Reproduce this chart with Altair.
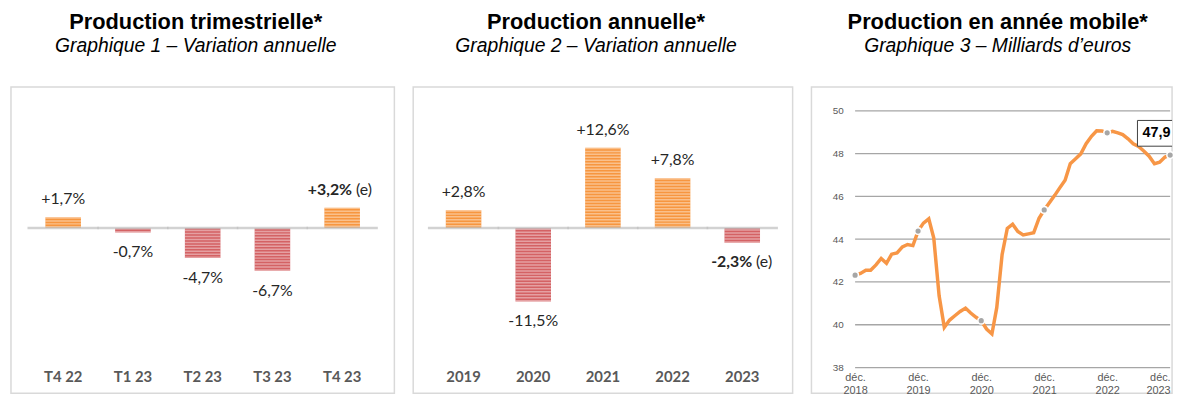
import altair as alt
import pandas as pd

# ---------------- data ----------------
cats1 = ["T4 22", "T1 23", "T2 23", "T3 23", "T4 23"]
vals1 = [1.7, -0.7, -4.7, -6.7, 3.2]
labs1 = ["+1,7%", "-0,7%", "-4,7%", "-6,7%", "+3,2%"]
est1 = [False, False, False, False, True]

cats2 = ["2019", "2020", "2021", "2022", "2023"]
vals2 = [2.8, -11.5, 12.6, 7.8, -2.3]
labs2 = ["+2,8%", "-11,5%", "+12,6%", "+7,8%", "-2,3%"]
est2 = [False, False, False, False, True]

months = pd.date_range("2018-12-01", "2023-12-01", freq="MS").strftime("%Y-%m-%d").tolist()
prod = [42.32,
        42.40, 42.55, 42.55, 42.80, 43.10, 42.87, 43.30, 43.36, 43.64, 43.75, 43.70, 44.38,
        44.75, 44.95, 44.05, 41.35, 39.88, 40.22, 40.42, 40.62, 40.78, 40.55, 40.35, 40.19,
        39.80, 39.57, 40.80, 43.28, 44.50, 44.70, 44.36, 44.20, 44.25, 44.30, 44.98, 45.37,
        45.72, 46.06, 46.40, 46.76, 47.53, 47.76, 47.99, 48.46, 48.81, 49.07, 49.06, 48.97,
        49.04, 48.97, 48.89, 48.69, 48.46, 48.33, 48.12, 47.88, 47.53, 47.60, 47.84, 47.93]
yticks3 = [38, 40, 42, 44, 46, 48, 50]
last_label = "47,9"

ORANGE = "#F7963F"
RED = "#D46264"
TXT = "#262626"
GREY_LBL = "#595959"
H = 309
FONT_T = "Liberation Sans"
FONT_V = "Lato"


def title(main, sub, dx):
    return alt.TitleParams(
        text=main, subtitle=sub, anchor="middle", dx=dx,
        font=FONT_T, fontSize=22, fontWeight="bold", color="#000000",
        subtitleFont=FONT_T, subtitleFontSize=19.5, subtitleFontStyle="italic",
        subtitleColor="#000000", subtitlePadding=3, offset=31,
    )


def bar_panel(cats, vals, labs, est, width, pi, po, main, sub, dx):
    df = pd.DataFrame({"cat": cats, "v": vals, "lab": labs, "est": est})
    df["pos"] = df["v"] >= 0
    x = alt.X("cat:N", sort=cats,
              scale=alt.Scale(paddingInner=pi, paddingOuter=po),
              axis=alt.Axis(title=None, domain=False, ticks=False, tickSize=0,
                            labelAngle=0, labelFont=FONT_V, labelFontSize=15,
                            labelFontWeight="bold", labelColor=GREY_LBL,
                            labelPadding=0, offset=-24))
    xs = alt.X("cat:N", sort=cats)
    y = alt.Y("v:Q", scale=alt.Scale(domain=[-25.9, 22.1], nice=False), axis=None)
    base = alt.Chart(df)
    bars = base.mark_bar().encode(
        x=x, y=y,
        color=alt.condition("datum.v >= 0", alt.value(ORANGE), alt.value(RED)),
    )
    stripes = base.mark_rule(strokeWidth=36, strokeDash=[1.5, 1.5], strokeCap="butt",
                             color="white", opacity=0.4).encode(
        x=xs, y="v:Q", y2=alt.datum(0))
    zero = base.mark_tick(size=72, thickness=2.5, color="#BFBFBF").encode(
        x=xs, y=alt.datum(0))
    layers = [bars, stripes, zero]
    for positive, dy in [(True, -18), (False, 20)]:
        sel = f"datum.pos == {str(positive).lower()}"
        layers.append(base.transform_filter(sel + " && !datum.est").mark_text(
            font=FONT_V, fontSize=16, color=TXT, dy=dy, baseline="middle").encode(
            x=xs, y="v:Q", text="lab:N"))
        layers.append(base.transform_filter(sel + " && datum.est").mark_text(
            font=FONT_V, fontSize=16, fontWeight="bold", color=TXT, dy=dy,
            dx=10, align="right", baseline="middle").encode(
            x=xs, y="v:Q", text="lab:N"))
        layers.append(base.transform_filter(sel + " && datum.est").mark_text(
            font=FONT_V, fontSize=16, color=TXT, dy=dy,
            dx=14, align="left", baseline="middle").encode(
            x=xs, y="v:Q", text=alt.value("(e)")))
    return alt.layer(*layers).properties(width=width, height=H, title=title(main, sub, dx))


p1 = bar_panel(cats1, vals1, labs1, est1, 387, 0.49, 0.4935,
               "Production trimestrielle*", "Graphique 1 – Variation annuelle", -7)
p2 = bar_panel(cats2, vals2, labs2, est2, 383, 0.49, 0.468,
               "Production annuelle*", "Graphique 2 – Variation annuelle", -7)

# ---------------- panel 3 ----------------
df3 = pd.DataFrame({"date": months, "v": prod})
df3["dec"] = pd.to_datetime(df3["date"]).dt.month == 12
grid = pd.DataFrame({"g": yticks3, "start": months[0], "end": months[-1]})
ann = pd.DataFrame({"date": [months[-1]], "v": [prod[-1]], "lab": [last_label]})

xdom = [alt.DateTime(year=2018, month=3, date=23, utc=True),
        alt.DateTime(year=2023, month=12, date=12, utc=True)]
xvals = [alt.DateTime(year=yr, month=12, date=1, utc=True) for yr in range(2018, 2024)]
xsc = alt.Scale(domain=xdom)
ysc = alt.Scale(domain=[36.8, 51.11], nice=False, zero=False)

gridl = alt.Chart(grid).mark_rule(color="#A6A6A6", strokeWidth=1.3).encode(
    x=alt.X("start:T", scale=xsc), x2="end:T", y=alt.Y("g:Q", scale=ysc))
line = alt.Chart(df3).mark_line(color="#F79646", strokeWidth=3.5).encode(
    x=alt.X("date:T", scale=xsc,
            axis=alt.Axis(title=None, values=xvals, grid=False, domain=False,
                          ticks=False, tickSize=0, offset=-24, labelPadding=2,
                          labelExpr="['déc.', utcFormat(datum.value, '%Y')]",
                          labelFont=FONT_T, labelFontSize=11, labelLineHeight=13,
                          labelColor=GREY_LBL, labelFlush=5)),
    y=alt.Y("v:Q", scale=ysc,
            axis=alt.Axis(title=None, values=yticks3, grid=False, domain=False,
                          ticks=False, tickSize=0, labelPadding=4, offset=-36,
                          labelFont=FONT_T, labelFontSize=10, labelColor=GREY_LBL)))
pts = alt.Chart(df3).transform_filter("datum.dec").mark_point(
    filled=True, fill="#A6A6A6", stroke="white", strokeWidth=1.5, size=45,
    opacity=1).encode(x=alt.X("date:T", scale=xsc), y=alt.Y("v:Q", scale=ysc))
box = alt.Chart(ann).mark_point(
    shape="M-33,-35H80V-9H-33Z", size=4, filled=True, fill="white",
    stroke="#404040", strokeWidth=1, opacity=1, clip=True).encode(
    x=alt.X("date:T", scale=xsc), y=alt.Y("v:Q", scale=ysc))
anntext = alt.Chart(ann).mark_text(
    font=FONT_T, fontSize=14.5, fontWeight="bold", color="#000000",
    align="left", baseline="middle", dx=-28, dy=-22, clip=True).encode(
    x=alt.X("date:T", scale=xsc), y=alt.Y("v:Q", scale=ysc), text="lab:N")

p3 = alt.layer(gridl, line, pts, box, anntext).properties(
    width=364, height=H,
    title=title("Production en année mobile*", "Graphique 3 – Milliards d’euros", 6))

chart = alt.hconcat(p1, p2, p3, spacing=17).properties(
    padding={"left": 2, "top": 0, "right": 0, "bottom": 0}
).configure_view(stroke="#D9D9D9", strokeWidth=1.5).configure_concat(spacing=17)

chart.save("out.html", embed_options={"renderer": "svg", "actions": False})
